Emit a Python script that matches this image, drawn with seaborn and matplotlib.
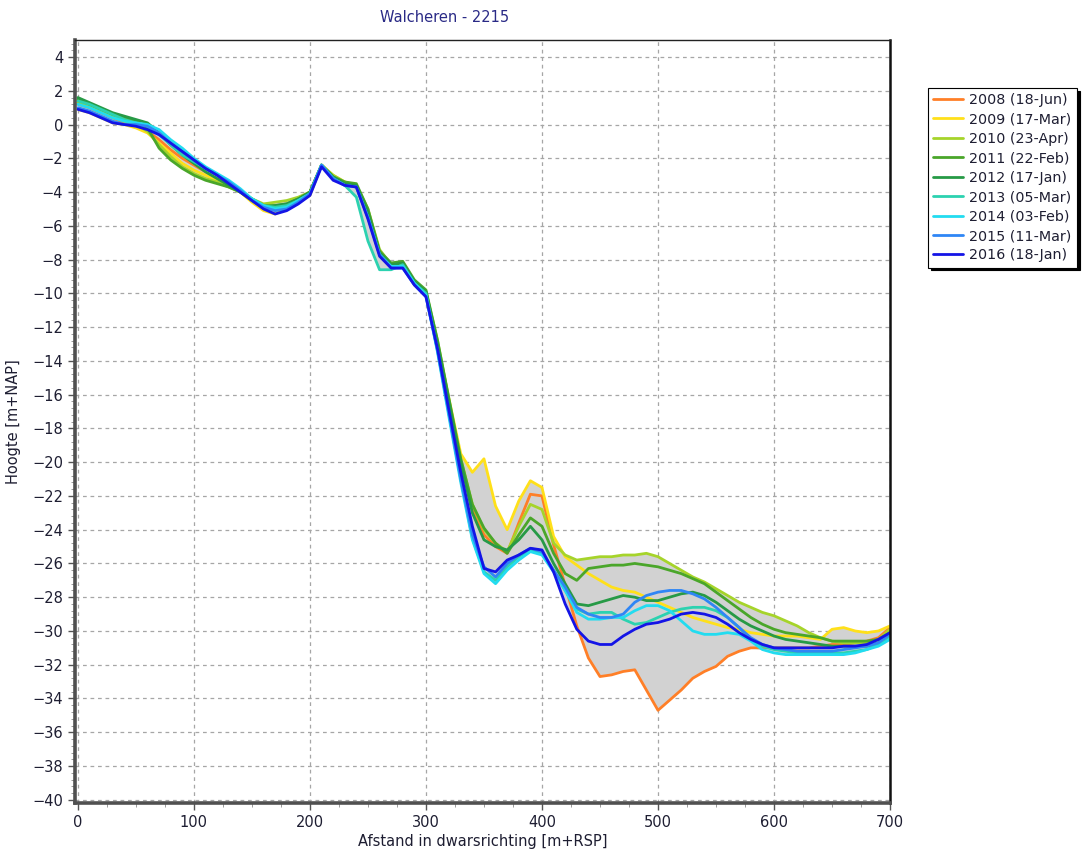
#!/usr/bin/env python3
"""
Cross-shore profile Walcheren - 2215: bed level per survey year (2008-2016),
with the grey envelope between the lowest and highest survey.
"""

import matplotlib
matplotlib.use("Agg")
import matplotlib.pyplot as plt
from matplotlib.ticker import MultipleLocator
import numpy as np
import pandas as pd
import seaborn as sns

# distance along the transect [m+RSP], one point every 10 m
DISTANCE = list(range(0, 701, 10))

SURVEYS = [
    "2008 (18-Jun)",
    "2009 (17-Mar)",
    "2010 (23-Apr)",
    "2011 (22-Feb)",
    "2012 (17-Jan)",
    "2013 (05-Mar)",
    "2014 (03-Feb)",
    "2015 (11-Mar)",
    "2016 (18-Jan)",
]

COLORS = [
    "#ff7f27",
    "#ffe01a",
    "#a6d42a",
    "#4aa62a",
    "#279a46",
    "#2cd2b0",
    "#22dcf0",
    "#2f86f5",
    "#1414e6",
]

# bed level [m+NAP]
H_2008 = [
    1.2, 1.0, 0.7, 0.4, 0.1, -0.1, -0.4, -0.9, -1.5, -2.0, -2.4,
    -2.8, -3.2, -3.6, -4.0, -4.5, -4.9, -5.0, -4.8, -4.4, -4.0,
    -2.4, -3.1, -3.5, -3.6, -5.3, -7.6, -8.4, -8.3, -9.4, -10.0,
    -13.0, -16.6, -20.0, -22.8, -24.3, -25.0, -25.4, -23.6, -21.9, -22.0,
    -24.9, -27.3, -29.7, -31.6, -32.7, -32.6, -32.4, -32.3, -33.5, -34.7,
    -34.1, -33.5, -32.8, -32.4, -32.1, -31.5, -31.2, -31.0, -31.0, -31.0,
    -31.0, -31.0, -31.0, -30.9, -30.8, -30.8, -30.7, -30.6, -30.4, -29.8,
]
H_2009 = [
    0.9, 0.7, 0.4, 0.1, 0.0, -0.2, -0.5, -1.1, -1.7, -2.3, -2.7,
    -3.0, -3.3, -3.6, -4.0, -4.6, -5.1, -5.3, -5.0, -4.6, -4.2,
    -2.4, -3.0, -3.4, -3.7, -5.5, -7.7, -8.4, -8.4, -9.5, -10.1,
    -13.0, -16.3, -19.5, -20.6, -19.8, -22.6, -24.0, -22.3, -21.1, -21.5,
    -24.4, -25.6, -26.1, -26.6, -27.0, -27.4, -27.6, -27.7, -28.0, -28.3,
    -28.6, -28.9, -29.2, -29.4, -29.6, -29.8, -29.9, -30.1, -30.2, -30.3,
    -30.3, -30.3, -30.4, -30.5, -29.9, -29.8, -30.0, -30.1, -30.0, -29.7,
]
H_2010 = [
    1.3, 1.1, 0.8, 0.5, 0.2, 0.0, -0.4, -1.2, -1.9, -2.5, -2.9,
    -3.2, -3.4, -3.7, -4.0, -4.4, -4.7, -4.6, -4.5, -4.3, -4.0,
    -2.4, -3.0, -3.4, -3.6, -5.0, -7.4, -8.3, -8.2, -9.3, -9.9,
    -12.8, -16.4, -19.8, -22.5, -24.0, -24.8, -25.3, -23.8, -22.5, -22.8,
    -24.8, -25.5, -25.8, -25.7, -25.6, -25.6, -25.5, -25.5, -25.4, -25.6,
    -26.0, -26.4, -26.8, -27.1, -27.5, -27.9, -28.3, -28.6, -28.9, -29.1,
    -29.4, -29.7, -30.1, -30.4, -30.6, -30.7, -30.7, -30.7, -30.5, -29.9,
]
H_2011 = [
    1.5, 1.2, 0.9, 0.6, 0.4, 0.2, -0.2, -1.4, -2.1, -2.6, -3.0,
    -3.3, -3.5, -3.7, -4.0, -4.4, -4.8, -4.8, -4.7, -4.4, -4.0,
    -2.4, -3.1, -3.4, -3.5, -5.0, -7.5, -8.2, -8.1, -9.2, -9.8,
    -12.8, -16.3, -19.8, -22.5, -23.9, -24.8, -25.4, -24.3, -23.3, -23.8,
    -25.4, -26.6, -27.0, -26.3, -26.2, -26.1, -26.1, -26.0, -26.1, -26.2,
    -26.4, -26.6, -26.9, -27.2, -27.7, -28.2, -28.7, -29.2, -29.6, -29.9,
    -30.1, -30.2, -30.3, -30.4, -30.6, -30.6, -30.6, -30.6, -30.5, -30.1,
]
H_2012 = [
    1.6, 1.3, 1.0, 0.7, 0.5, 0.3, 0.1, -0.5, -1.2, -1.8, -2.3,
    -2.8, -3.2, -3.6, -4.0, -4.5, -4.9, -4.8, -4.7, -4.4, -4.0,
    -2.4, -3.1, -3.5, -3.6, -5.2, -7.6, -8.3, -8.2, -9.3, -9.9,
    -13.0, -16.5, -20.0, -23.0, -24.6, -25.0, -25.2, -24.6, -23.8, -24.6,
    -26.0, -27.2, -28.4, -28.5, -28.3, -28.1, -27.9, -28.0, -28.2, -28.2,
    -28.0, -27.8, -27.7, -27.9, -28.3, -28.8, -29.3, -29.7, -30.0, -30.3,
    -30.5, -30.6, -30.7, -30.8, -30.9, -30.9, -30.9, -30.9, -30.7, -30.2,
]
H_2013 = [
    1.4, 1.2, 0.9, 0.6, 0.3, 0.1, -0.1, -0.6, -1.2, -1.8, -2.2,
    -2.6, -3.0, -3.4, -3.9, -4.4, -4.8, -4.9, -4.8, -4.5, -4.1,
    -2.4, -3.2, -3.6, -4.3, -6.9, -8.6, -8.6, -8.3, -9.4, -10.0,
    -13.4, -17.2, -21.0, -24.5, -26.5, -27.0, -26.2, -25.6, -25.2, -25.4,
    -26.4, -27.6, -28.7, -29.0, -28.9, -28.9, -29.3, -29.6, -29.5, -29.2,
    -28.9, -28.7, -28.6, -28.6, -28.8, -29.2, -29.8, -30.5, -30.9, -31.1,
    -31.2, -31.3, -31.3, -31.3, -31.3, -31.3, -31.2, -31.1, -30.8, -30.3,
]
H_2014 = [
    1.2, 1.0, 0.7, 0.4, 0.2, 0.1, 0.0, -0.3, -0.9, -1.4, -2.0,
    -2.5, -2.9, -3.3, -3.8, -4.4, -4.8, -5.0, -4.9, -4.5, -4.1,
    -2.4, -3.2, -3.6, -3.7, -5.5, -7.7, -8.4, -8.4, -9.4, -10.1,
    -13.5, -17.4, -21.2, -24.6, -26.6, -27.2, -26.4, -25.8, -25.3, -25.5,
    -26.5, -27.6, -28.9, -29.3, -29.3, -29.2, -29.2, -28.8, -28.5, -28.5,
    -28.8, -29.4, -30.0, -30.2, -30.2, -30.1, -30.2, -30.6, -31.1, -31.3,
    -31.4, -31.4, -31.4, -31.4, -31.4, -31.4, -31.3, -31.1, -30.9, -30.5,
]
H_2015 = [
    1.0, 0.8, 0.5, 0.2, 0.0, 0.0, -0.1, -0.5, -1.1, -1.6, -2.1,
    -2.6, -3.0, -3.4, -3.9, -4.5, -4.9, -5.1, -5.0, -4.6, -4.1,
    -2.4, -3.2, -3.6, -3.7, -5.5, -7.7, -8.5, -8.5, -9.5, -10.2,
    -13.4, -17.2, -21.0, -24.3, -26.2, -26.8, -26.0, -25.5, -25.1, -25.3,
    -26.4, -27.4, -28.6, -29.0, -29.2, -29.2, -29.0, -28.3, -27.9, -27.7,
    -27.6, -27.6, -27.8, -28.1, -28.6, -29.2, -29.8, -30.4, -30.8, -31.0,
    -31.1, -31.2, -31.2, -31.2, -31.2, -31.1, -31.0, -30.9, -30.7, -30.2,
]
H_2016 = [
    0.9, 0.7, 0.4, 0.1, 0.0, -0.1, -0.3, -0.6, -1.1, -1.6, -2.1,
    -2.6, -3.0, -3.5, -4.0, -4.5, -5.0, -5.3, -5.1, -4.7, -4.2,
    -2.5, -3.3, -3.6, -3.7, -5.6, -7.8, -8.5, -8.5, -9.5, -10.2,
    -13.3, -17.0, -20.6, -23.8, -26.3, -26.5, -25.8, -25.5, -25.1, -25.2,
    -26.5, -28.4, -29.9, -30.6, -30.8, -30.8, -30.3, -29.9, -29.6, -29.5,
    -29.3, -29.0, -28.9, -29.0, -29.2, -29.6, -30.1, -30.5, -30.8, -31.0,
    -31.0, -31.0, -31.0, -31.0, -31.0, -30.9, -30.9, -30.8, -30.5, -30.1,
]

HEIGHTS = [H_2008, H_2009, H_2010, H_2011, H_2012, H_2013, H_2014, H_2015, H_2016]

TEXT_COLOR = "#1e1e32"


def main():
    sns.set_style("white")
    plt.rcParams["font.family"] = ["DejaVu Sans"]

    # long-form table for seaborn
    df = pd.DataFrame(
        {
            "afstand": DISTANCE * len(SURVEYS),
            "hoogte": [h for series in HEIGHTS for h in series],
            "survey": [s for s in SURVEYS for _ in DISTANCE],
        }
    )

    # envelope between lowest and highest survey
    wide = df.pivot(index="afstand", columns="survey", values="hoogte")
    env_lo = wide.min(axis=1)
    env_hi = wide.max(axis=1)

    fig = plt.figure(figsize=(10.87, 8.49), dpi=100)
    ax = fig.add_axes([0.069, 0.054, 0.7498, 0.8987])

    ax.fill_between(wide.index, env_lo, env_hi, color="#d2d2d2", linewidth=0, zorder=1)

    sns.lineplot(
        data=df,
        x="afstand",
        y="hoogte",
        hue="survey",
        hue_order=SURVEYS,
        palette=COLORS,
        estimator=None,
        linewidth=2.0,
        legend=False,
        ax=ax,
        zorder=2,
    )

    ax.set_xlim(-2.5, 700)
    ax.set_ylim(-40.2, 5.0)
    ax.xaxis.set_major_locator(MultipleLocator(100))
    ax.xaxis.set_minor_locator(MultipleLocator(25))
    ax.yaxis.set_major_locator(MultipleLocator(2))
    ax.yaxis.set_minor_locator(MultipleLocator(0.4))

    ax.grid(True, which="major", linestyle=(0, (3, 3)), color="#a6a6a6", linewidth=0.9)
    ax.set_axisbelow(True)

    ax.tick_params(which="major", direction="out", length=5, width=1,
                   color="#555555", labelsize=10.5, labelcolor=TEXT_COLOR,
                   bottom=True, left=True)
    ax.tick_params(which="minor", direction="out", length=3, width=0.6,
                   color="#8a8a8a", bottom=True, left=True)

    for side in ["left", "bottom"]:
        ax.spines[side].set_color("#505050")
        ax.spines[side].set_linewidth(2.6)
    ax.spines["right"].set_color("#111111")
    ax.spines["right"].set_linewidth(1.8)
    ax.spines["top"].set_color("#222222")
    ax.spines["top"].set_linewidth(1.0)

    ax.set_xlabel("Afstand in dwarsrichting [m+RSP]", fontsize=10.5,
                  color=TEXT_COLOR, labelpad=3)
    ax.set_ylabel("Hoogte [m+NAP]", fontsize=10.5, color=TEXT_COLOR, labelpad=8)

    fig.text(0.409, 0.979, "Walcheren - 2215", ha="center", va="center",
             fontsize=10.5, color="#2a2a86")

    handles = ax.get_lines()[: len(SURVEYS)]
    leg = fig.legend(
        handles,
        SURVEYS,
        loc="upper left",
        bbox_to_anchor=(928 / 1087, 1 - 88 / 849),
        frameon=True,
        fancybox=False,
        shadow={"color": "black", "alpha": 1.0},
        edgecolor="black",
        framealpha=1,
        fontsize=10.3,
        labelspacing=0.38,
        handlelength=2.1,
        handletextpad=0.45,
        borderpad=0.35,
        borderaxespad=0,
    )
    leg.get_frame().set_linewidth(0.8)
    for text in leg.get_texts():
        text.set_color(TEXT_COLOR)

    fig.savefig("out.png", dpi=100, facecolor="white")
    plt.close(fig)


if __name__ == "__main__":
    main()
